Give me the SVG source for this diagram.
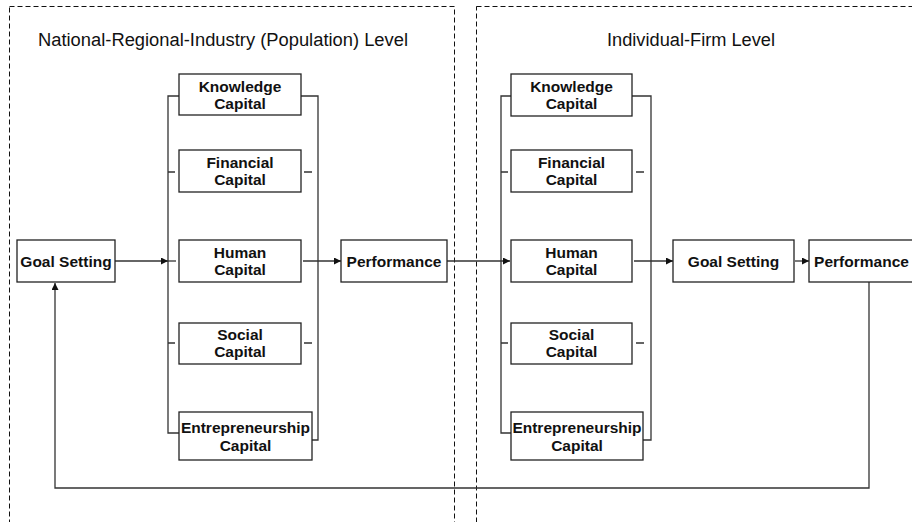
<svg xmlns="http://www.w3.org/2000/svg" width="912" height="522" viewBox="0 0 912 522">
  <style>
    .panel { fill: none; stroke: #111; stroke-width: 1; stroke-dasharray: 5 3; }
    .box { fill: #fff; stroke: #222; stroke-width: 1.3; }
    .lbl { font-family: "Liberation Sans", Arial, sans-serif; font-size: 15.5px; font-weight: bold; fill: #111; text-anchor: middle; }
    .title { font-family: "Liberation Sans", Arial, sans-serif; font-size: 18px; fill: #111; }
    .wire { fill: none; stroke: #333; stroke-width: 1.3; }
    .arrow { fill: none; stroke: #333; stroke-width: 1.3; marker-end: url(#head); }
  </style>
  <defs>
    <marker id="head" viewBox="0 0 10 10" refX="10" refY="5" markerWidth="8" markerHeight="7" markerUnits="userSpaceOnUse" orient="auto">
      <path d="M0,0 L10,5 L0,10 z" fill="#111"/>
    </marker>
  </defs>

  <rect width="912" height="522" fill="#fff"/>

  <!-- level panels -->
  <g id="panel-population">
    <rect class="panel" x="9.5" y="6.5" width="445" height="530"/>
    <text class="title" x="38" y="46" textLength="370" lengthAdjust="spacingAndGlyphs">National-Regional-Industry (Population) Level</text>
  </g>
  <g id="panel-firm">
    <rect class="panel" x="476.5" y="6.5" width="460" height="530"/>
    <text class="title" x="607" y="46" textLength="168" lengthAdjust="spacingAndGlyphs">Individual-Firm Level</text>
  </g>

  <!-- connectors -->
  <g id="connectors">
    <!-- left capital bracket -->
    <path class="wire" d="M179,96 H168 V433 H179"/>
    <path class="wire" d="M168,172 H175 M168,343 H175"/>
    <path class="wire" d="M301,96 H318 V440 H312"/>
    <path class="wire" d="M304,172 H312 M304,343 H312"/>
    <!-- right capital bracket -->
    <path class="wire" d="M511,96 H501 V433 H511"/>
    <path class="wire" d="M501,172 H508 M501,343 H508"/>
    <path class="wire" d="M632,96 H651 V440 H643"/>
    <path class="wire" d="M636,172 H644 M636,343 H644"/>

    <path class="arrow" d="M115,261 H168"/>
    <path class="wire" d="M168,261 H176"/>
    <path class="arrow" d="M303,261 H341"/>
    <path class="arrow" d="M447,261 H510"/>
    <path class="arrow" d="M634,261 H673"/>
    <path class="arrow" d="M795,261 H809"/>
    <!-- feedback loop -->
    <path class="arrow" d="M869,282 V488 H55 V283"/>
  </g>

  <!-- population-level nodes -->
  <g id="goal-setting-pop">
    <rect class="box" x="17" y="240" width="98" height="42"/>
    <text class="lbl" x="66" y="267">Goal Setting</text>
  </g>
  <g id="knowledge-pop">
    <rect class="box" x="179" y="74" width="122" height="41"/>
    <text class="lbl" x="240" y="92">Knowledge</text>
    <text class="lbl" x="240" y="109">Capital</text>
  </g>
  <g id="financial-pop">
    <rect class="box" x="179" y="150" width="122" height="42"/>
    <text class="lbl" x="240" y="168">Financial</text>
    <text class="lbl" x="240" y="185">Capital</text>
  </g>
  <g id="human-pop">
    <rect class="box" x="179" y="240" width="122" height="42"/>
    <text class="lbl" x="240" y="258">Human</text>
    <text class="lbl" x="240" y="275">Capital</text>
  </g>
  <g id="social-pop">
    <rect class="box" x="179" y="323" width="122" height="41"/>
    <text class="lbl" x="240" y="340">Social</text>
    <text class="lbl" x="240" y="357">Capital</text>
  </g>
  <g id="entrepreneurship-pop">
    <rect class="box" x="179" y="412" width="133" height="48"/>
    <text class="lbl" x="245.5" y="433">Entrepreneurship</text>
    <text class="lbl" x="245.5" y="451">Capital</text>
  </g>
  <g id="performance-pop">
    <rect class="box" x="341" y="240" width="106" height="42"/>
    <text class="lbl" x="394" y="267">Performance</text>
  </g>

  <!-- firm-level nodes -->
  <g id="knowledge-firm">
    <rect class="box" x="511" y="74" width="121" height="42"/>
    <text class="lbl" x="571.5" y="92">Knowledge</text>
    <text class="lbl" x="571.5" y="109">Capital</text>
  </g>
  <g id="financial-firm">
    <rect class="box" x="511" y="150" width="121" height="42"/>
    <text class="lbl" x="571.5" y="168">Financial</text>
    <text class="lbl" x="571.5" y="185">Capital</text>
  </g>
  <g id="human-firm">
    <rect class="box" x="511" y="240" width="121" height="42"/>
    <text class="lbl" x="571.5" y="258">Human</text>
    <text class="lbl" x="571.5" y="275">Capital</text>
  </g>
  <g id="social-firm">
    <rect class="box" x="511" y="323" width="121" height="41"/>
    <text class="lbl" x="571.5" y="340">Social</text>
    <text class="lbl" x="571.5" y="357">Capital</text>
  </g>
  <g id="entrepreneurship-firm">
    <rect class="box" x="511" y="412" width="132" height="48"/>
    <text class="lbl" x="577" y="433">Entrepreneurship</text>
    <text class="lbl" x="577" y="451">Capital</text>
  </g>
  <g id="goal-setting-firm">
    <rect class="box" x="673" y="240" width="121" height="42"/>
    <text class="lbl" x="733.5" y="267">Goal Setting</text>
  </g>
  <g id="performance-firm">
    <rect class="box" x="809" y="240" width="112" height="42"/>
    <text class="lbl" x="861.5" y="267">Performance</text>
  </g>
</svg>
